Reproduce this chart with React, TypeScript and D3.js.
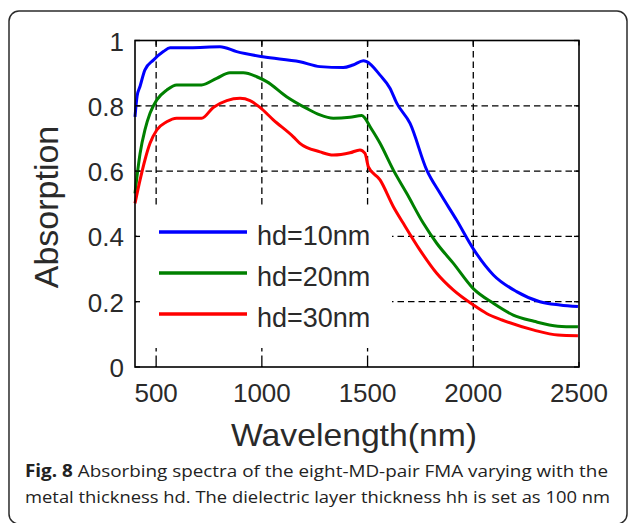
import React from "react";
import * as d3 from "d3";

const wlBlue = [400, 410, 424, 447, 487, 534, 566, 660, 802, 881, 1005, 1180, 1275, 1385, 1431, 1480, 1496, 1559, 1606, 1638, 1701, 1780, 1843, 1921, 2000, 2095, 2205, 2315, 2410, 2495];
const absBlue = [0.766, 0.83, 0.86, 0.91, 0.94, 0.966, 0.978, 0.978, 0.981, 0.966, 0.95, 0.935, 0.92, 0.917, 0.925, 0.938, 0.935, 0.894, 0.854, 0.808, 0.746, 0.603, 0.532, 0.45, 0.362, 0.282, 0.231, 0.2, 0.19, 0.185];

const wlGreen = [400, 424, 447, 471, 503, 550, 597, 715, 786, 849, 912, 976, 1023, 1117, 1212, 1275, 1338, 1417, 1473, 1488, 1512, 1559, 1622, 1685, 1764, 1827, 1905, 2000, 2095, 2189, 2287, 2400, 2495];
const absGreen = [0.532, 0.654, 0.726, 0.777, 0.818, 0.848, 0.864, 0.864, 0.884, 0.901, 0.901, 0.889, 0.874, 0.828, 0.792, 0.772, 0.762, 0.765, 0.77, 0.762, 0.736, 0.685, 0.603, 0.532, 0.44, 0.379, 0.318, 0.24, 0.195, 0.159, 0.14, 0.125, 0.123];

const wlRed = [400, 424, 447, 471, 503, 550, 597, 715, 770, 834, 897, 944, 991, 1054, 1149, 1180, 1275, 1338, 1417, 1464, 1488, 1504, 1559, 1622, 1669, 1748, 1827, 1905, 2000, 2063, 2136, 2287, 2400, 2495];
const absRed = [0.501, 0.573, 0.634, 0.685, 0.726, 0.751, 0.762, 0.762, 0.795, 0.816, 0.823, 0.816, 0.795, 0.757, 0.705, 0.685, 0.659, 0.649, 0.656, 0.665, 0.654, 0.613, 0.573, 0.491, 0.44, 0.358, 0.287, 0.236, 0.19, 0.164, 0.144, 0.113, 0.098, 0.096];

const seriesNames = ["hd=10nm", "hd=20nm", "hd=30nm"];
const seriesColors = ["#0000ff", "#008000", "#ff0000"];
const xTicks = [500, 1000, 1500, 2000, 2500];
const yTicks = [0, 0.2, 0.4, 0.6, 0.8, 1];
const yTickLabels = ["0", "0.2", "0.4", "0.6", "0.8", "1"];
const xLabel = "Wavelength(nm)";
const yLabel = "Absorption";
const captionBold = "Fig. 8";
const captionLine1 = " Absorbing spectra of the eight-MD-pair FMA varying with the";
const captionLine2 = "metal thickness hd. The dielectric layer thickness hh is set as 100 nm";

export default function App() {
  const left = 135, right = 579, top = 40.5, bottom = 367;
  const x = d3.scaleLinear().domain([400, 2500]).range([left, right]);
  const y = d3.scaleLinear().domain([0, 1]).range([bottom, top]);
  const series = [
    wlBlue.map((w, i) => [w, absBlue[i]]),
    wlGreen.map((w, i) => [w, absGreen[i]]),
    wlRed.map((w, i) => [w, absRed[i]]),
  ];
  const line = d3.line<number[]>().x((d) => x(d[0])).y((d) => y(d[1])).curve(d3.curveMonotoneX);
  const font = "'Liberation Sans', Arial, sans-serif";
  const legX0 = 159, legX1 = 247, legY = [232, 273, 314];
  const tickLen = 5;
  return (
    <svg width={629} height={523} style={{ position: "absolute", left: 0, top: 0, background: "#fff" }}>
      <rect x={9} y={11} width={618} height={513} rx={10} ry={10} fill="#fff" stroke="#2b2b2b" strokeWidth={1.5} />
      {/* grid */}
      {xTicks.filter((t) => t < 2500).map((t) => (
        <line key={"gx" + t} x1={x(t)} x2={x(t)} y1={top} y2={bottom} stroke="#000" strokeWidth={1.3} strokeDasharray="6.5,4" />
      ))}
      {yTicks.filter((t) => t > 0 && t < 1).map((t) => (
        <line key={"gy" + t} x1={left} x2={right} y1={y(t)} y2={y(t)} stroke="#000" strokeWidth={1.3} strokeDasharray="6.5,4" />
      ))}
      {/* legend background */}
      <rect x={137} y={208} width={255} height={140} fill="#fff" />
      {/* curves */}
      {series.map((s, i) => (
        <path key={"s" + i} d={line(s) || ""} fill="none" stroke={seriesColors[i]} strokeWidth={3} strokeLinejoin="round" />
      ))}
      {/* legend */}
      {seriesNames.map((n, i) => (
        <g key={"l" + i}>
          <line x1={legX0} x2={legX1} y1={legY[i]} y2={legY[i]} stroke={seriesColors[i]} strokeWidth={3.5} />
          <text x={257} y={legY[i] + 13} fontFamily={font} fontSize={27} fill="#2a2a2a">{n}</text>
        </g>
      ))}
      {/* frame */}
      <rect x={left} y={top} width={right - left} height={bottom - top} fill="none" stroke="#000" strokeWidth={1.6} />
      {xTicks.map((t) => (
        <g key={"tx" + t}>
          <line x1={x(t)} x2={x(t)} y1={bottom} y2={bottom - tickLen} stroke="#000" strokeWidth={1.3} />
          <line x1={x(t)} x2={x(t)} y1={top} y2={top + tickLen} stroke="#000" strokeWidth={1.3} />
          <text x={x(t)} y={402} textAnchor="middle" fontFamily={font} fontSize={26} fill="#2a2a2a">{t}</text>
        </g>
      ))}
      {yTicks.map((t, i) => (
        <g key={"ty" + t}>
          <line x1={left} x2={left + tickLen} y1={y(t)} y2={y(t)} stroke="#000" strokeWidth={1.3} />
          <line x1={right} x2={right - tickLen} y1={y(t)} y2={y(t)} stroke="#000" strokeWidth={1.3} />
          <text x={124} y={y(t) + 10} textAnchor="end" fontFamily={font} fontSize={26} fill="#2a2a2a">{yTickLabels[i]}</text>
        </g>
      ))}
      <text x={354} y={446} textAnchor="middle" fontFamily={font} fontSize={32} textLength={246} lengthAdjust="spacingAndGlyphs" fill="#2a2a2a">{xLabel}</text>
      <text transform="translate(58,207) rotate(-90)" textAnchor="middle" fontFamily={font} fontSize={34} fill="#2a2a2a">{yLabel}</text>
      <text x={25} y={477} fontFamily="'Open Sans', sans-serif" fontSize={17} fill="#222" textLength={583} lengthAdjust="spacingAndGlyphs">
        <tspan fontWeight="bold">{captionBold}</tspan>
        <tspan>{captionLine1}</tspan>
      </text>
      <text x={25} y={503} fontFamily="'Open Sans', sans-serif" fontSize={17} fill="#222" textLength={585} lengthAdjust="spacingAndGlyphs">{captionLine2}</text>
    </svg>
  );
}
